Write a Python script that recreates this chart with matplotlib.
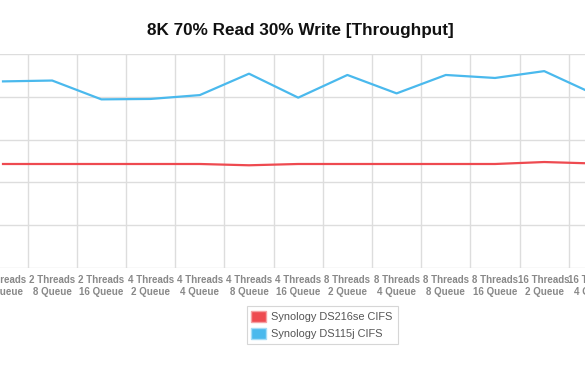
import matplotlib.pyplot as plt
import matplotlib.patches as mpatches
import numpy as np

plt.rcParams['font.family'] = ['Liberation Sans', 'DejaVu Sans']

# categories visible in the (cropped) chart
categories = ['2 Threads\n4 Queue', '2 Threads\n8 Queue', '2 Threads\n16 Queue',
              '4 Threads\n2 Queue', '4 Threads\n4 Queue', '4 Threads\n8 Queue',
              '4 Threads\n16 Queue', '8 Threads\n2 Queue', '8 Threads\n4 Queue',
              '8 Threads\n8 Queue', '8 Threads\n16 Queue', '16 Threads\n2 Queue',
              '16 Threads\n4 Queue']
ds216se = [12.15, 12.15, 12.15, 12.15, 12.15, 12.0, 12.15, 12.15, 12.15, 12.15, 12.15, 12.38, 12.21]
ds115j = [21.8, 21.9, 19.7, 19.75, 20.2, 22.7, 19.9, 22.55, 20.4, 22.55, 22.2, 23.0, 20.35]

red = '#ee4a50'
blue = '#4ab9ed'

fig = plt.figure(figsize=(5.85, 3.78), dpi=100)
W, H = 585, 378
step = 49.2
x0, x1 = -1.0, 12.6
left_px = 3 + step * x0
right_px = 3 + step * x1
ax = fig.add_axes([left_px / W, (H - 268) / H, (right_px - left_px) / W, (268 - 54) / H])

x = np.arange(len(categories))
ax.plot(x, ds216se, color=red, lw=1.6, solid_joinstyle='round')
ax.plot(x, ds115j, color=blue, lw=1.6, solid_joinstyle='round')

ax.set_yticks(np.arange(0, 26, 5))
ax.set_xticks(x)
ax.set_xticklabels(categories, fontsize=7, color='#888888', fontweight='bold', linespacing=1.25)
ax.set_xticks(np.arange(-0.5, 12.6, 1), minor=True)
ax.set_xlim(x0, x1)
ax.set_ylim(0, 25)
ax.tick_params(axis='both', which='both', length=0)
ax.tick_params(axis='x', pad=5)
ax.set_yticklabels([])
ax.grid(axis='y', which='major', color='#dddddd', lw=1)
ax.grid(axis='x', which='minor', color='#dddddd', lw=1)
ax.set_axisbelow(True)
for s in ax.spines.values():
    s.set_visible(False)

fig.text(300 / W, 1 - 30 / H, '8K 70% Read 30% Write [Throughput]', ha='center', va='center',
         fontsize=12.3, fontweight='bold', color='#111111')

handles = [mpatches.Patch(facecolor=red, edgecolor='#f5a0a3', label='Synology DS216se CIFS'),
           mpatches.Patch(facecolor=blue, edgecolor='#a5dcf6', label='Synology DS115j CIFS')]
leg = fig.legend(handles=handles, loc='center', bbox_to_anchor=(322 / W, 1 - 325 / H),
                 fontsize=7.9, frameon=True, fancybox=False, edgecolor='#cccccc',
                 handlelength=1.35, handleheight=1.2, handletextpad=0.45, borderpad=0.45,
                 labelspacing=0.5)
for t in leg.get_texts():
    t.set_color('#555555')
leg.get_frame().set_linewidth(0.8)

fig.savefig('out.png', dpi=100)
